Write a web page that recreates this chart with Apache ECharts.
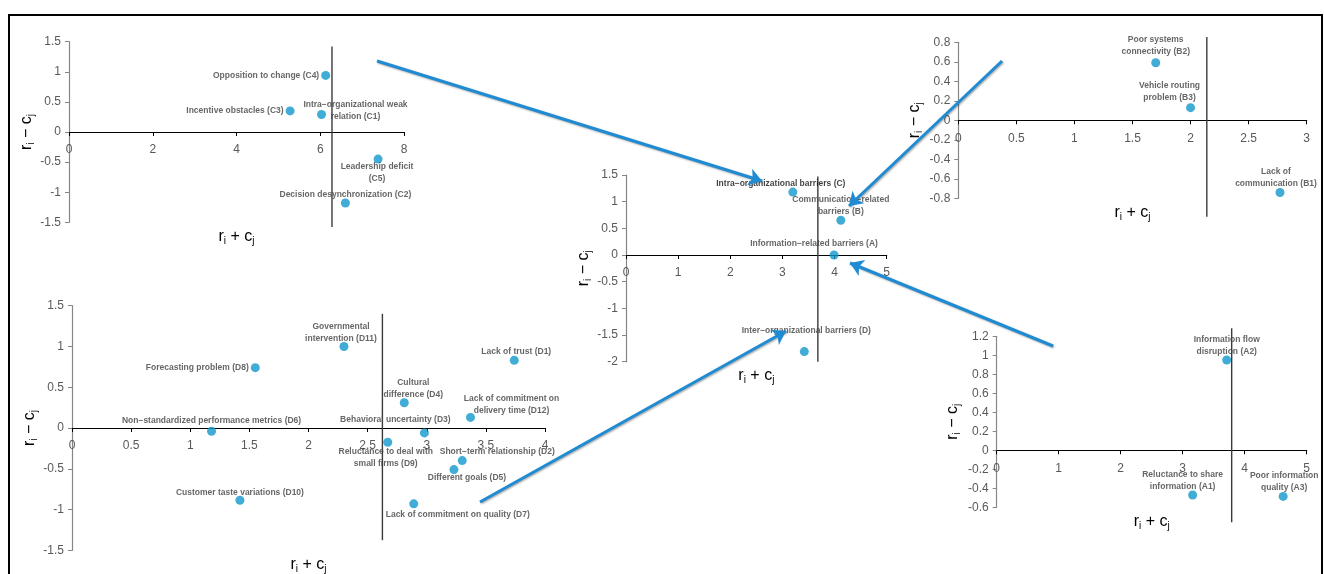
<!DOCTYPE html>
<html>
<head>
<meta charset="utf-8">
<script src="https://cdn.jsdelivr.net/npm/echarts@6/dist/echarts.min.js"></script>
<style>
  html, body { margin: 0; padding: 0; background: #ffffff; }
  #chart { width: 1324px; height: 574px; }
</style>
</head>
<body>
<div id="chart"></div>
<script>
// ---- Intra-organizational barriers (C) ----
const intraCodes = ['C1', 'C2', 'C3', 'C4', 'C5'];
const intraNames = ['Intra−organizational weak\nrelation (C1)', 'Decision desynchronization (C2)', 'Incentive obstacles (C3)', 'Opposition to change (C4)', 'Leadership deficit\n(C5)'];
const intraX = [6.03, 6.60, 5.28, 6.13, 7.38];
const intraY = [0.29, -1.18, 0.35, 0.94, -0.45];
const intraCut = 6.28;
const intraCutSpan = [-1.58, 1.42];

// ---- Main barrier groups (A–D) ----
const groupCodes = ['A', 'B', 'C', 'D'];
const groupNames = ['Information−related barriers (A)', 'Communication−related\nbarriers (B)', 'Intra−organizational barriers (C)', 'Inter−organizational barriers (D)'];
const groupX = [3.99, 4.12, 3.20, 3.42];
const groupY = [0.00, 0.65, 1.18, -1.81];
const groupCut = 3.68;
const groupCutSpan = [-2.0, 1.47];

// ---- Communication-related barriers (B) ----
const commCodes = ['B1', 'B2', 'B3'];
const commNames = ['Lack of\ncommunication (B1)', 'Poor systems\nconnectivity (B2)', 'Vehicle routing\nproblem (B3)'];
const commX = [2.77, 1.70, 2.00];
const commY = [-0.74, 0.59, 0.13];
const commCut = 2.14;
const commCutSpan = [-0.99, 0.854];

// ---- Inter-organizational barriers (D) ----
const interCodes = ['D1', 'D2', 'D3', 'D4', 'D5', 'D6', 'D7', 'D8', 'D9', 'D10', 'D11', 'D12'];
const interNames = ['Lack of trust (D1)', 'Short−term relationship (D2)', 'Behavioral uncertainty (D3)', 'Cultural\ndifference (D4)', 'Different goals (D5)', 'Non−standardized performance metrics (D6)', 'Lack of commitment on quality (D7)', 'Forecasting problem (D8)', 'Reluctance to deal with\nsmall firms (D9)', 'Customer taste variations (D10)', 'Governmental\nintervention (D11)', 'Lack of commitment on\ndelivery time (D12)'];
const interX = [3.74, 3.30, 2.98, 2.81, 3.23, 1.18, 2.89, 1.55, 2.67, 1.42, 2.30, 3.37];
const interY = [0.83, -0.40, -0.06, 0.31, -0.51, -0.04, -0.93, 0.74, -0.175, -0.886, 1.00, 0.13];
const interCut = 2.625;
const interCutSpan = [-1.376, 1.40];

// ---- Information-related barriers (A) ----
const infoCodes = ['A1', 'A2', 'A3'];
const infoNames = ['Reluctance to share\ninformation (A1)', 'Information flow\ndisruption (A2)', 'Poor information\nquality (A3)'];
const infoX = [3.16, 3.71, 4.62];
const infoY = [-0.47, 0.95, -0.485];
const infoCut = 3.79;
const infoCutSpan = [-0.757, 1.285];

// Axis ranges and tick steps: [min, max, interval]
const intraXTicks = [0, 8, 2],   intraYTicks = [-1.5, 1.5, 0.5];
const groupXTicks = [0, 5, 1],   groupYTicks = [-2, 1.5, 0.5];
const commXTicks  = [0, 3, 0.5], commYTicks  = [-0.8, 0.8, 0.2];
const interXTicks = [0, 4, 0.5], interYTicks = [-1.5, 1.5, 0.5];
const infoXTicks  = [0, 5, 1],   infoYTicks  = [-0.6, 1.2, 0.2];

// ---- Layout (pixels) ----
const panelBoxes = [
  { left: 69,    top: 41.7,  width: 335,   height: 180.6 },  // C
  { left: 626,   top: 175,   width: 260.7, height: 186.7 },  // main
  { left: 958.3, top: 42.3,  width: 348.4, height: 156 },    // B
  { left: 72,    top: 305.7, width: 473,   height: 244.6 },  // D
  { left: 996.7, top: 336.3, width: 310,   height: 171 }     // A
];
const yNameGaps = [32, 32, 34, 30, 34];

// Label placement around each point: 'left' or [dx, dy] offset of the label centre
const labelPlacement = {
  C1: [34, -4], C2: [0, -8], C3: 'left', C4: 'left', C5: [-1, 14],
  A: [-20, -11], B: [0, -15], C: [-12, -8], D: [2, -21],
  B1: [-4, -15], B2: [0, -17], B3: [-21, -16],
  D1: [2, -9], D2: [35, -9], D3: [-29, -13], D4: [9, -14], D5: [13, 8], D6: [0, -11],
  D7: [44, 11], D8: 'left', D9: [-2, 15], D10: [0, -8], D11: [-3, -14], D12: [41, -13],
  A1: [-10, -14], A2: [0, -14], A3: [1, -15]
};

// Annotation arrows between the panels (pixel space)
const arrowPaths = [
  [[377, 61], [762, 181]],
  [[1002, 61], [849, 206]],
  [[1053, 346], [850, 263]],
  [[480, 502], [786, 331]]
];

const dotColor = '#1199cc';
const arrowColor = '#1f8bd3';
const tickFont = "'Liberation Sans', sans-serif";
const labelFont = "'Liberation Sans', sans-serif";

const titleRich = {
  m: { fontSize: 16, lineHeight: 20, color: '#000', fontFamily: tickFont, verticalAlign: 'middle' },
  s: { fontSize: 10, lineHeight: 10, color: '#000', fontFamily: tickFont, verticalAlign: 'bottom' }
};
const sumTitle = '{m|r}{s|i}{m| + c}{s|j}';
const diffTitle = '{m|r}{s|i}{m| − c}{s|j}';

const panels = [
  { codes: intraCodes, names: intraNames, xs: intraX, ys: intraY, cut: intraCut, span: intraCutSpan, xt: intraXTicks, yt: intraYTicks },
  { codes: groupCodes, names: groupNames, xs: groupX, ys: groupY, cut: groupCut, span: groupCutSpan, xt: groupXTicks, yt: groupYTicks, dark: true },
  { codes: commCodes,  names: commNames,  xs: commX,  ys: commY,  cut: commCut,  span: commCutSpan,  xt: commXTicks,  yt: commYTicks },
  { codes: interCodes, names: interNames, xs: interX, ys: interY, cut: interCut, span: interCutSpan, xt: interXTicks, yt: interYTicks },
  { codes: infoCodes,  names: infoNames,  xs: infoX,  ys: infoY,  cut: infoCut,  span: infoCutSpan,  xt: infoXTicks,  yt: infoYTicks }
];

function fmt(v) {
  const r = Math.round(v * 100) / 100;
  return String(r);
}

function pointLabel(code, dark) {
  const p = labelPlacement[code];
  const base = {
    show: true,
    fontFamily: labelFont,
    fontWeight: 'bold',
    fontSize: 8.5,
    lineHeight: 12,
    color: (dark && code === 'C') ? '#111' : '#404040',
    textBorderWidth: 0,
    align: 'center',
    formatter: params => params.name
  };
  if (p === 'left') {
    return Object.assign(base, { position: 'left', distance: 2, align: 'right' });
  }
  return Object.assign(base, { position: 'inside', offset: p, verticalAlign: 'middle' });
}

const grids = [], xAxes = [], yAxes = [], series = [];

panels.forEach((pn, i) => {
  const box = panelBoxes[i];
  grids.push({ left: box.left, top: box.top, width: box.width, height: box.height, containLabel: false, outerBoundsMode: 'none' });

  // the value axis sits on y = 0: lift it from the bottom edge by the share of the range below zero
  const zeroLift = box.height * (0 - pn.yt[0]) / (pn.yt[1] - pn.yt[0]);

  xAxes.push({
    gridIndex: i, type: 'value', min: pn.xt[0], max: pn.xt[1], interval: pn.xt[2],
    position: 'bottom', offset: -zeroLift,
    axisLine: { show: true, onZero: false, lineStyle: { color: '#000', width: 1.2 } },
    axisTick: { show: true, length: 4, lineStyle: { color: '#000' } },
    axisLabel: { show: true, color: '#595959', fontSize: 12, fontFamily: tickFont, margin: 12, formatter: fmt },
    splitLine: { show: false }
  });
  // axis title under the plot
  xAxes.push({
    gridIndex: i, type: 'value', min: pn.xt[0], max: pn.xt[1],
    position: 'bottom',
    axisLine: { show: false, onZero: false },
    axisTick: { show: false }, axisLabel: { show: false }, splitLine: { show: false },
    name: sumTitle, nameLocation: 'middle', nameGap: 4,
    nameTextStyle: { rich: titleRich }
  });
  yAxes.push({
    gridIndex: i, type: 'value', min: pn.yt[0], max: pn.yt[1], interval: pn.yt[2],
    axisLine: { show: true, onZero: false, lineStyle: { color: '#868686', width: 1.2 } },
    axisTick: { show: true, length: 4, lineStyle: { color: '#868686' } },
    axisLabel: { show: true, color: '#595959', fontSize: 12, fontFamily: tickFont, margin: 8, formatter: fmt },
    splitLine: { show: false },
    name: diffTitle, nameLocation: 'middle', nameRotate: 90, nameGap: yNameGaps[i],
    nameTextStyle: { rich: titleRich }
  });

  series.push({
    type: 'line', xAxisIndex: i * 2, yAxisIndex: i,
    data: [[pn.cut, pn.span[0]], [pn.cut, pn.span[1]]],
    symbol: 'none', clip: false, silent: true, animation: false,
    lineStyle: { color: '#3a3a3a', width: 1.4 }, z: 2
  });

  series.push({
    type: 'scatter', xAxisIndex: i * 2, yAxisIndex: i,
    symbol: 'circle', symbolSize: 9, clip: false, animation: false,
    itemStyle: { color: dotColor },
    data: pn.xs.map((x, k) => ({
      value: [x, pn.ys[k]],
      name: pn.names[k],
      label: pointLabel(pn.codes[k], pn.dark)
    })),
    z: 3
  });
});

// overlay grid for the arrows
grids.push({ left: 0, top: 0, width: 1324, height: 574, containLabel: false, outerBoundsMode: 'none' });
xAxes.push({ gridIndex: 5, type: 'value', min: 0, max: 1324, show: false });
yAxes.push({ gridIndex: 5, type: 'value', min: 0, max: 574, inverse: true, show: false });
series.push({
  type: 'lines', coordinateSystem: 'cartesian2d', xAxisIndex: 10, yAxisIndex: 5,
  symbol: ['none', 'arrow'], symbolSize: 13, silent: true, animation: false,
  lineStyle: {
    color: arrowColor, width: 3, opacity: 1, curveness: 0,
    shadowColor: 'rgba(0,0,0,0.35)', shadowBlur: 2, shadowOffsetX: 1, shadowOffsetY: 1
  },
  data: arrowPaths.map(p => ({ coords: p })),
  z: 10
});

const chart = echarts.init(document.getElementById('chart'), null, { renderer: 'canvas' });
chart.setOption({
  backgroundColor: '#ffffff',
  animation: false,
  grid: grids,
  xAxis: xAxes,
  yAxis: yAxes,
  series: series,
  graphic: [{
    type: 'rect', silent: true, z: 0,
    shape: { x: 9, y: 15, width: 1313, height: 620 },
    style: { fill: 'none', stroke: '#000', lineWidth: 2 }
  }]
});
</script>
</body>
</html>
